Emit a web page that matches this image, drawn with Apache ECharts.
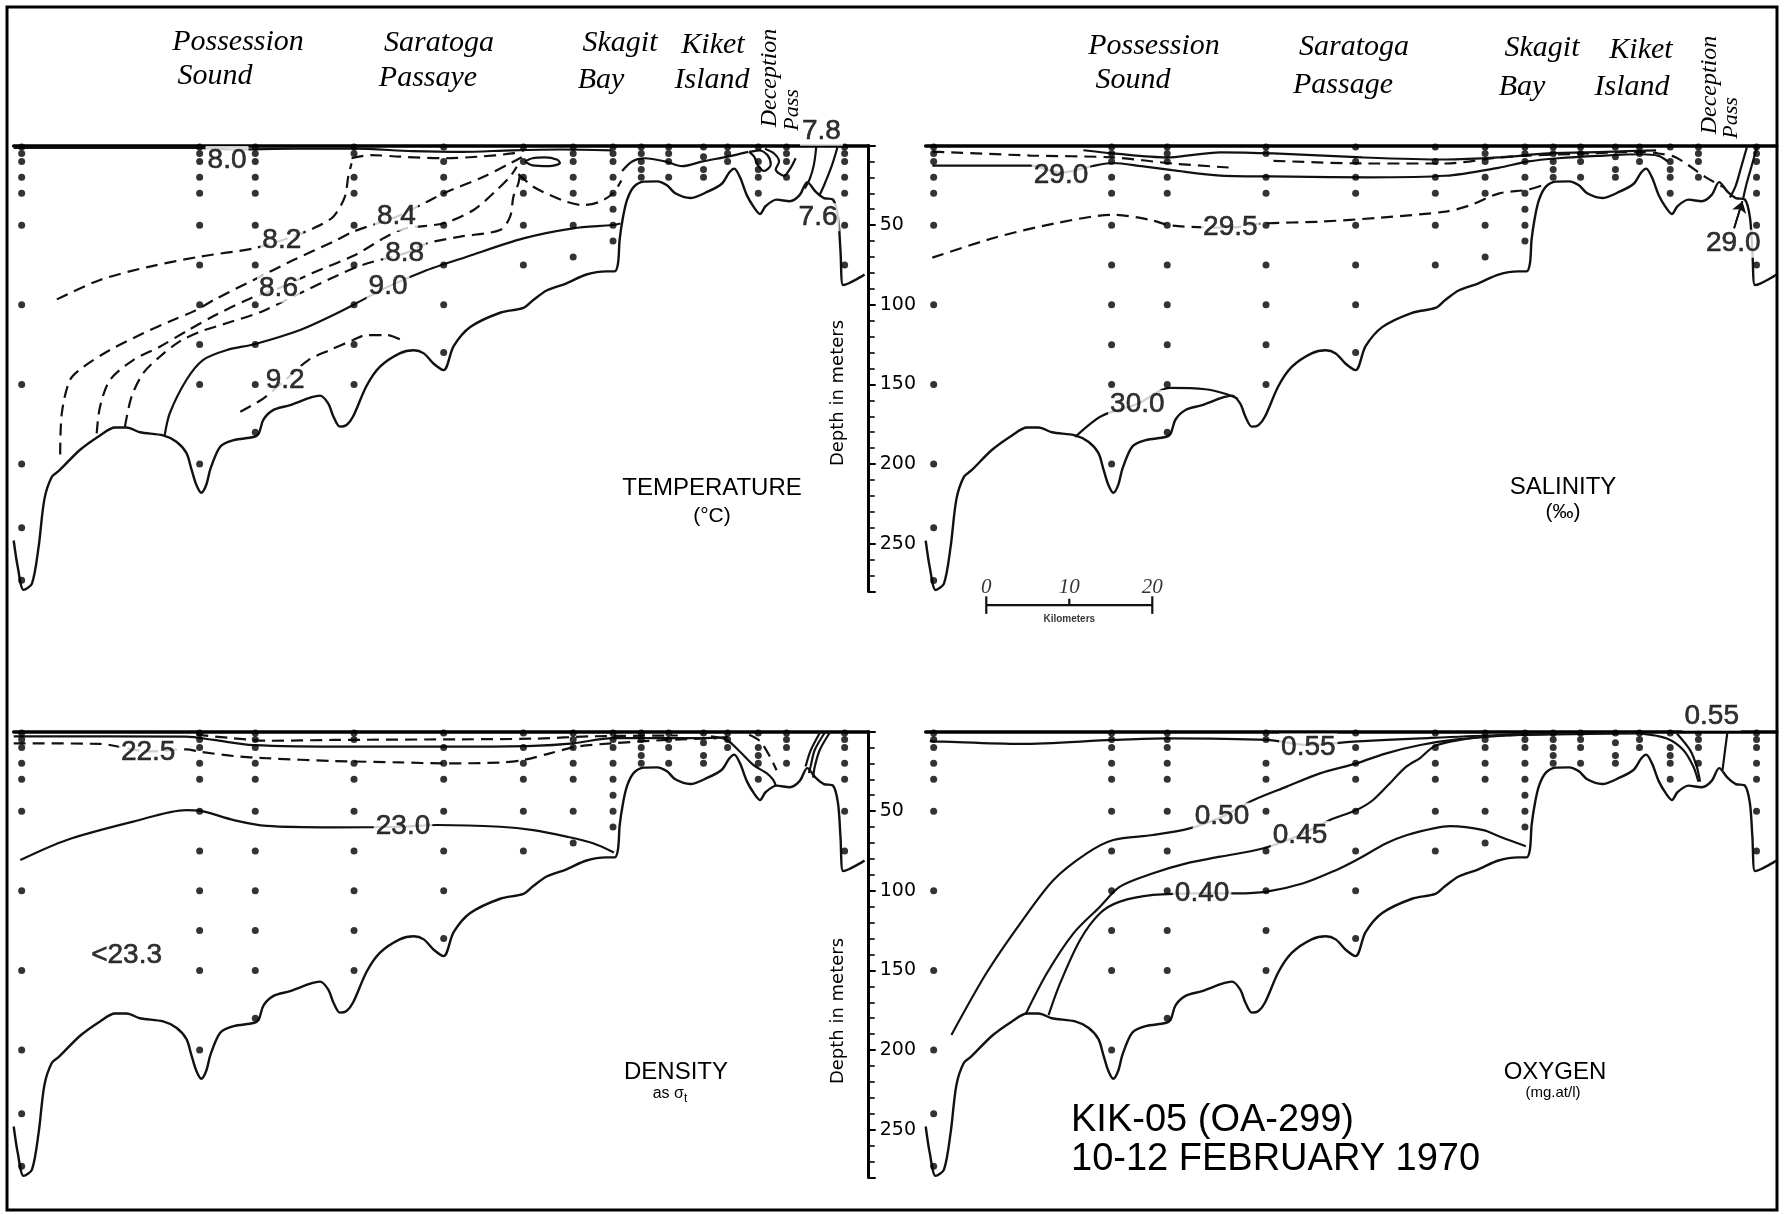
<!DOCTYPE html>
<html>
<head>
<meta charset="utf-8">
<script src="https://cdn.jsdelivr.net/npm/echarts@6/dist/echarts.min.js"></script>
<style>
  html, body { margin: 0; padding: 0; background: #fff; }
  #main { width: 1787px; height: 1215px; }
</style>
</head>
<body>
<div id="main"></div>
<script>
// KIK-05 section, 10-12 Feb 1970. x = km along the section, y = depth (m)

// sea floor, shared by the four sections
var bottomProfile = [[0,248],[0.5,265],[1.2,279],[2.2,275],[3.0,252],[3.7,222],[4.6,208],[5.5,204],[8.0,191],[10.4,182],
  [12.2,177],[13.6,177],[15.2,180],[18.0,182],[19.6,186],[20.8,193],[21.4,203],[22.0,213],[22.6,218],[23.2,213],
  [23.7,203],[24.9,189],[26.5,185],[28.9,183],[29.5,181],[30.1,172],[31.3,166],[33.3,163],[35.9,158],[36.9,157],
  [37.9,162],[38.5,170],[39.3,176.5],[40.1,175.5],[40.9,170],[42.5,151],[44.1,139],[46.5,130.5],[48.2,128.5],[49.4,130.5],
  [50.6,137],[51.8,141],[53.0,126],[55.0,114],[58.6,105],[61.4,102],[62.6,97],[64.2,91],[66.6,86.5],[69.0,81],
  [71.4,79],[72.4,79],[72.8,74],[73.0,59],[73.4,45],[73.9,34],[74.7,26],[75.9,22.7],[77.5,22.5],[78.7,25],
  [79.7,30],[81.5,33],[83.6,29],[85.3,24],[86.2,17],[86.8,14.5],[87.5,20],[88.3,31],[89.2,39],[89.9,43],
  [90.6,38],[91.9,34],[93.5,35],[94.7,31],[95.6,23],[96.6,29],[97.6,33],[98.7,34],[99.3,45],[99.6,66],
  [99.9,87.6],[100.6,86.5],[102.2,82],[102.5,81]];

// hydrographic stations and their bottle depths
var stationKm = [0.96, 22.4, 29.1, 41.0, 51.8, 61.4, 67.4, 72.2, 75.6, 78.9, 83.1, 86.0, 89.7, 93.1, 100.1];
var stationDepths = [
  [1, 5, 10, 20, 30, 50, 100, 150, 200, 240, 273],
  [1, 5, 10, 20, 30, 50, 75, 100, 125, 150, 200],
  [1, 5, 10, 20, 30, 50, 75, 100, 125, 150, 180],
  [1, 5, 20, 30, 50, 75, 100, 125, 150],
  [1, 10, 20, 30, 50, 75, 100, 130],
  [1, 10, 20, 30, 50, 75],
  [1, 5, 10, 20, 30, 50, 70],
  [1, 5, 10, 20, 30, 40, 50, 60],
  [1, 5, 10, 15, 20],
  [1, 5, 10, 20],
  [1, 7, 15, 20],
  [1, 5, 10],
  [1, 10, 15, 20, 30],
  [1, 5, 10, 20],
  [1, 5, 10, 20, 30, 50, 75]
];

// temperature (deg C)
var temp82 = [[5.2,96.6],[10.4,84.4],[16.4,76],[22.4,69.8],[28.9,64.6],[32.3,59.5],[36.1,52],[38.5,44.7],[39.9,32.1],[40.3,19.6],[40.7,11.2]];
var temp84 = [[5.6,194],[5.8,168],[6.8,147],[8.4,139],[11.6,128.4],[15.6,117.9],[19.2,109.5],[21.6,104.3],[24.5,95.9],[28.9,84.4],[33.7,71.9],[38.5,60.4],[40.9,54.1],[46.1,44.7],[49.8,35.3],[51.8,30],[56.6,19.6],[59.8,11.2],[61.2,7.4]];
var temp86 = [[10,180.7],[10.4,164],[11.6,147.2],[14.4,134.7],[17.6,126.3],[21,116],[24.5,106],[28.5,96],[31.9,89.7],[36,80],[41,69],[46.6,53],[51.8,48.8],[55.4,40.5],[58.2,27.9],[59.8,19.6],[60.6,13.3]];
var temp88 = [[13.4,176.5],[14.2,157.7],[15.6,143],[17.6,132.6],[20,123],[22.4,117],[26,111],[30,104],[34,94],[38,84],[42,75],[47.1,67.7],[49.8,61.4],[53.8,57.2],[58.6,53],[59.8,44.7],[60.2,32.1],[60.8,23.7],[61,17.5]];
var temp90 = [[18.2,181.7],[18.8,168.1],[20.8,147.2],[22.8,134.7],[25.7,128.4],[29.1,124.6],[34.5,115.8],[38.5,106.4],[40.9,100.1],[45.1,88.6],[49.3,79.2],[54.6,69.8],[61.4,58.3],[67.4,52],[72.2,49.9],[73.1,49]];
var temp92 = [[27.3,167.1],[30.1,158.7],[32.7,147.3],[35.5,134.7],[38.1,128.4],[40.9,122.1],[42.5,119],[44.9,119],[47.1,123.2]];
var tempDip = [[60.8,18],[62.6,25.9],[64.6,31.1],[66.6,35.3],[68.6,37.4],[70.6,35.3],[72.2,30],[73.2,22]];
var tempSurfDash = [[40.7,8],[43,6],[46.5,7],[51.8,8],[56,7],[60,5],[61.5,3]];
var tempSurfSolid = [[0,1.5],[22,1.5],[26,2.5],[34,2],[41,2],[48,3.5],[54,4],[60,3],[66,2.5],[72,3]];
var tempLens = [[61.6,10],[62.5,8],[64,7.5],[65.5,9],[65.8,11],[64.5,13],[62.5,12.5],[61.6,10]];
var tempSkagit = [[73.3,16],[74.5,10],[76,8],[78.5,10],[80.5,13],[83,10],[86,7],[88.5,4]];
var tempDecLoop = [[88.6,4],[89.8,3],[90.8,6],[91.2,12],[90.4,16],[89.6,12],[89.2,7],[88.6,4]];
var tempDecLine = [[90.5,2],[91.6,5],[92.2,10],[91.8,15],[92.8,19],[93.6,14],[94.2,8]];
var temp78a = [[96.7,0],[96.4,12],[95.9,21],[95.3,27]];
var temp78b = [[99.3,0],[98.6,12],[97.7,24],[97.1,31]];
var tempLabels = [['8.0',25.7,9.1],['8.2',32.3,59.5],['8.4',46.1,44.7],['8.6',31.9,89.7],['8.8',47.1,67.7],['9.0',45.1,88.6],['9.2',32.7,147.3],['7.8',97.3,-8.7],['7.6',96.9,45]];

// salinity (per mille)
var salTopDash1 = [[0.8,3.8],[12.6,6.3],[22.6,7.5],[29.7,11.3],[36.5,13.8]];
var salTopDash2 = [[41.9,9.6],[53.3,11.3],[62.6,11.3],[69,7.5],[72.6,6.3],[80,5],[86.2,4],[88.3,5],[90.4,7.5],[94,20],[96.2,26.4]];
var salUpper = [[19,3],[22.6,5],[29,7.5],[35.5,4.3],[41.9,5],[52.6,7.5],[62.6,8.8],[69,7.5],[75,5],[82,4],[88,3]];
var sal290 = [[0.8,12.6],[12.6,12.6],[16.3,17],[20,13],[22.6,11],[26,13],[29.7,15.5],[35.5,18.9],[44,19.5],[53.3,20],[62.6,19],[69,14],[72.6,10],[76.2,8],[81,6.5],[86.2,5.5],[88.3,6.5],[89.4,10]];
var sal295 = [[0.8,70.4],[8.3,57.9],[15.5,49],[22.6,43.5],[26.9,46.5],[29.7,50.3],[36.7,51.6],[40.5,49],[47.6,47.8],[54.7,45.3],[62.6,41.5],[65.5,37.7],[69,30.2],[72.6,27.7],[74.6,24.5]];
var sal300 = [[18,183],[21.2,169.8],[25.5,162.3],[29.4,152.2],[33.7,153],[36.2,156],[37.6,159]];
var salDecA = [[99,0],[98.3,12.6],[97.6,25.2],[96.9,32.7]];
var salDecB = [[100.2,0],[99.5,13],[98.9,24],[98.5,33]];
var salArrow = [[97.4,52],[98.4,35]];
var salLabels = [['29.0',16.3,18.5],['29.5',36.7,51.6],['30.0',25.5,162.3],['29.0',97.3,61.6]];

// density (sigma-t)
var den225 = [[0,7.4],[10.4,7.8],[16.2,12.5],[20.8,11.2],[22.4,12.7],[26.5,15.4],[30.5,16.8],[38.5,18.5],[46.5,19.4],[51.8,20],[58.6,19.5],[61.4,17.9],[64.6,13.7],[67.8,9.5],[72.2,7.4],[78.7,5.3],[84.7,4.2]];
var den230 = [[0.8,80.7],[6.4,68.1],[14.4,56.6],[20.8,49.3],[22.4,49.7],[26.5,55.6],[30.5,59.3],[38.5,60.2],[46.9,59.8],[51,58.7],[58.6,59.8],[62.6,61.9],[66.6,66],[69.8,70.2],[72.3,76]];
var denSurfSolid = [[0,3],[20.8,3.2],[24.1,5.3],[28.9,8.5],[40.9,9.5],[53.8,9.5],[62.6,9],[67.4,7.4],[72.2,4.2],[82.7,4.2],[86,3.5]];
var denSurfDash = [[22,2],[26,4],[30.5,5.8],[38.5,5.3],[53.8,4.9],[62.6,4.5],[70,3],[80,2.5]];
var denDecA = [[84,3],[85.9,5.3],[87.5,12.7],[89.1,21],[90.7,26.2],[91.5,30.4],[91.8,34]];
var denDecDash = [[88.6,2],[89.9,6],[91.1,15.8],[91.9,24.3]];
var denDecB = [[98.4,0],[97.1,11.6],[96.5,22.1],[96.3,29]];
var denDecC = [[97.8,0],[96.5,11.6],[96,22],[95.8,26]];
var denDecD = [[97.2,0],[96,12],[95.4,22]];
var denLabels = [['22.5',16.2,13],['23.0',46.9,59.8],['<23.3',13.6,140.3]];

// oxygen (mg-at/l)
var oxy055 = [[0.5,6],[2.1,6.4],[11.4,7.8],[22.6,5.3],[29,4.3],[41.1,5.3],[46.1,8.5],[51.5,6.4],[59.6,4.3],[68,2.5],[80,1.5],[86,1.2]];
var oxy050 = [[3.1,190.5],[7.3,151.8],[11.4,120.4],[15.4,93.2],[19.4,76.5],[22.6,68.1],[27.4,65],[31.8,60.8],[35.7,53.5],[39.5,43],[43.5,34.6],[47.5,26.3],[51.9,20],[55.5,13.7],[59.6,8.5],[64,5],[70,2.5],[75,1.5]];
var oxy045 = [[12,177.9],[14.6,151.8],[17.8,126.7],[21,110],[23.4,97.4],[27.4,89],[31.4,82.8],[35.5,78.6],[40.7,73.3],[45.1,65],[48.7,55.6],[51.9,49.3],[53.9,43],[56.3,30.4],[57.9,22.1],[59.6,16.5],[61.2,9.5],[63.2,6.4],[67.2,3.2],[73.2,1.2]];
var oxy040 = [[14.8,178],[16.2,158],[18.6,130.9],[21,114.1],[23.4,106.8],[27.4,102.6],[33.3,101.6],[37.5,101.6],[41.1,100.5],[45.5,95.3],[49.5,86.9],[51.9,80.7],[55.5,70.2],[58,65],[61.2,60.8],[63.2,59.4],[67.2,61.9],[69.2,66.1],[72.3,72]];
var oxyDecA = [[86.1,1.2],[89.3,4.4],[91.3,11.7],[92.5,22.1],[93.1,31.5]];
var oxyDecB = [[90.5,1.2],[92.1,11.7],[92.9,22.1],[93.3,31.5]];
var oxyDecC = [[96.6,0],[96.3,12],[96,24.3]];
var oxyLabels = [['0.55',46.1,10],['0.50',35.7,53.5],['0.45',45.1,65],['0.40',33.3,101.6],['0.55',94.7,-9.3]];

// scale bar (km)
var scaleKm = [0, 10, 20];
var scaleStart = 7.3;
var scaleDepth = 288.5;

var SANS = '"Liberation Sans", "DejaVu Sans", sans-serif';
var HAND = '"Liberation Serif", "DejaVu Serif", serif';
var CLEAR = 'rgba(0,0,0,0)';

function lineSeries(g, data, dashed, width) {
  return {
    type: 'line', xAxisIndex: g, yAxisIndex: g, data: data,
    symbol: 'none', smooth: 0.3, clip: false, silent: true, z: 3,
    lineStyle: { color: '#111', width: width || 2.2, type: dashed ? [12, 7] : 'solid' }
  };
}

function dotSeries(g) {
  var pts = [];
  stationKm.forEach(function(km, i) {
    stationDepths[i].forEach(function(d) { pts.push([km, d]); });
  });
  return {
    type: 'scatter', xAxisIndex: g, yAxisIndex: g, data: pts,
    symbolSize: 7, silent: true, z: 4, itemStyle: { color: '#000' }
  };
}

// contour values written on the section; 'inside' labels get a black outline so they stay solid black
function labelSeries(g, list) {
  return {
    type: 'scatter', xAxisIndex: g, yAxisIndex: g, symbolSize: 1, clip: false, silent: true, z: 6,
    itemStyle: { color: CLEAR },
    data: list.map(function(l) {
      return { value: [l[1], l[2]], label: { formatter: l[0] } };
    }),
    label: {
      show: true, position: 'inside', color: '#000', fontSize: 28, fontFamily: SANS,
      textBorderColor: '#000', textBorderWidth: 0.6, backgroundColor: '#fff', padding: [0, 2]
    }
  };
}

var series = [];
[0, 1, 2, 3].forEach(function(g) {
  series.push(lineSeries(g, bottomProfile, false, 2.4));
  series.push(dotSeries(g));
});

// temperature, panel 0
[temp90, tempSurfSolid, tempLens, tempSkagit, tempDecLoop, tempDecLine, temp78a, temp78b].forEach(function(d) {
  series.push(lineSeries(0, d, false));
});
[temp82, temp84, temp86, temp88, temp92, tempDip, tempSurfDash].forEach(function(d) {
  series.push(lineSeries(0, d, true));
});
series.push(labelSeries(0, tempLabels));

// salinity, panel 1
[salUpper, sal290, sal300, salDecA, salDecB].forEach(function(d) {
  series.push(lineSeries(1, d, false));
});
[salTopDash1, salTopDash2, sal295].forEach(function(d) {
  series.push(lineSeries(1, d, true));
});
var arrow = lineSeries(1, salArrow, false, 1.8);
arrow.markLine = {
  silent: true, symbol: ['none', 'arrow'], symbolSize: 11,
  lineStyle: { color: '#111', width: 1.8, type: 'solid' }, label: { show: false },
  data: [[{ coord: salArrow[0] }, { coord: salArrow[1] }]]
};
series.push(arrow);
series.push(labelSeries(1, salLabels));

// scale bar drawn in panel 1 units
var scaleEnd = scaleStart + scaleKm[scaleKm.length - 1];
series.push(lineSeries(1, [[scaleStart, scaleDepth], [scaleEnd, scaleDepth]], false, 2.2));
scaleKm.forEach(function(k, i) {
  var ends = (i === 0 || i === scaleKm.length - 1);
  var s = lineSeries(1, [[scaleStart + k, scaleDepth - (ends ? 5.5 : 4)], [scaleStart + k, scaleDepth + (ends ? 5.5 : 0)]], false, 2.2);
  s.smooth = false;
  series.push(s);
});
series.push({
  type: 'scatter', xAxisIndex: 1, yAxisIndex: 1, symbolSize: 1, clip: false, silent: true, z: 6,
  itemStyle: { color: CLEAR },
  data: scaleKm.map(function(k) { return { value: [scaleStart + k, scaleDepth], label: { formatter: String(k) } }; })
    .concat([{ value: [scaleStart + scaleKm[scaleKm.length - 1] / 2, scaleDepth],
      label: { formatter: 'Kilometers', position: 'bottom', distance: 9, fontSize: 10, fontWeight: 'bold', fontStyle: 'normal', fontFamily: SANS } }]),
  label: { show: true, position: 'top', distance: 7, color: '#000', fontSize: 21, fontStyle: 'italic', fontFamily: HAND }
});

// density, panel 2
[den230, denSurfSolid, denDecA, denDecB, denDecC, denDecD].forEach(function(d) {
  series.push(lineSeries(2, d, false));
});
[den225, denSurfDash, denDecDash].forEach(function(d) {
  series.push(lineSeries(2, d, true));
});
series.push(labelSeries(2, denLabels));

// oxygen, panel 3
[oxy055, oxy050, oxy045, oxy040, oxyDecA, oxyDecB, oxyDecC].forEach(function(d) {
  series.push(lineSeries(3, d, false));
});
series.push(labelSeries(3, oxyLabels));

function surfaceAxis(g, max) {
  return {
    gridIndex: g, type: 'value', min: 0, max: max, position: 'top',
    axisLine: { show: true, onZero: false, lineStyle: { color: '#000', width: 3.5 } },
    axisTick: { show: false }, axisLabel: { show: false }, splitLine: { show: false }
  };
}
function depthAxis(g) {
  return {
    gridIndex: g, type: 'value', inverse: true, min: 0, max: 280, interval: 50, position: 'right',
    axisLine: { show: true, onZero: false, lineStyle: { color: '#000', width: 3 } },
    axisTick: { show: true, length: 7, lineStyle: { color: '#000', width: 2 } },
    minorTick: { show: true, splitNumber: 5, length: 6, lineStyle: { color: '#000', width: 1.6 } },
    axisLabel: {
      margin: 11, fontSize: 19, color: '#000', fontFamily: '"DejaVu Sans", sans-serif',
      formatter: function(v) { return (v === 0 || v > 250) ? '' : String(v); }
    },
    splitLine: { show: false }, minorSplitLine: { show: false }
  };
}
function hiddenDepth(g, max) {
  return { gridIndex: g, type: 'value', inverse: true, min: 0, max: max, show: false, splitLine: { show: false } };
}

function txt(x, y, text, size, extra) {
  var st = { text: text, fill: '#000', fontSize: size, fontFamily: SANS,
    textAlign: 'center', textVerticalAlign: 'middle', align: 'center', verticalAlign: 'middle' };
  for (var k in extra || {}) st[k] = extra[k];
  return { type: 'text', x: x, y: y, silent: true, z: 10, style: st };
}
function place(x, y, text) {
  return txt(x, y, text, 30, { fontFamily: HAND, fontStyle: 'italic' });
}
function vplace(x, y, text, size) {
  var t = txt(x, y, text, size, { fontFamily: HAND, fontStyle: 'italic' });
  t.rotation = Math.PI / 2;
  return t;
}
function vlabel(x, y, text) {
  var t = txt(x, y, text, 18, { fontFamily: '"DejaVu Sans", sans-serif' });
  t.rotation = Math.PI / 2;
  return t;
}

var graphics = [
  { type: 'rect', silent: true, z: 0, shape: { x: 7, y: 7, width: 1770, height: 1203 },
    style: { fill: 'none', stroke: '#000', lineWidth: 3 } },
  place(238, 42, 'Possession'), place(215, 76, 'Sound'),
  place(439, 43, 'Saratoga'), place(428, 78, 'Passaye'),
  place(620, 43, 'Skagit'), place(601, 80, 'Bay'),
  place(713, 45, 'Kiket'), place(712, 80, 'Island'),
  vplace(770, 78, 'Deception', 24), vplace(792, 110, 'Pass', 22),
  place(1154, 46, 'Possession'), place(1133, 80, 'Sound'),
  place(1354, 47, 'Saratoga'), place(1343, 85, 'Passage'),
  place(1542, 48, 'Skagit'), place(1522, 87, 'Bay'),
  place(1641, 50, 'Kiket'), place(1632, 87, 'Island'),
  vplace(1710, 85, 'Deception', 24), vplace(1731, 118, 'Pass', 22),
  txt(712, 488, 'TEMPERATURE', 24), txt(712, 516, '(°C)', 21),
  txt(1563, 487, 'SALINITY', 24), txt(1563, 512, '(‰)', 21),
  txt(676, 1072, 'DENSITY', 24),
  { type: 'text', x: 670, y: 1094, silent: true, z: 10,
    style: { text: '{a|as σ}{b|t}', fill: '#000', textAlign: 'center', textVerticalAlign: 'middle', align: 'center', verticalAlign: 'middle',
      rich: { a: { fontSize: 16, fontFamily: SANS }, b: { fontSize: 12, fontFamily: SANS, padding: [9, 0, 0, 0] } } } },
  txt(1555, 1072, 'OXYGEN', 24), txt(1553, 1093, '(mg.at/l)', 15),
  txt(1071, 1121, 'KIK-05 (OA-299)', 38, { textAlign: 'left', align: 'left' }),
  txt(1071, 1160, '10-12 FEBRUARY 1970', 38, { textAlign: 'left', align: 'left' }),
  vlabel(838, 393, 'Depth in meters'),
  vlabel(838, 1011, 'Depth in meters')
];

var chart = echarts.init(document.getElementById('main'));
chart.setOption({
  animation: false,
  backgroundColor: '#fff',
  grid: [
    { left: 13.7, top: 145.5, width: 855, height: 446 },
    { left: 925.7, top: 145.5, width: 851, height: 477.9 },
    { left: 13.7, top: 731.5, width: 855, height: 446 },
    { left: 925.7, top: 731.5, width: 851, height: 446 }
  ],
  xAxis: [surfaceAxis(0, 103), surfaceAxis(1, 102.53), surfaceAxis(2, 103), surfaceAxis(3, 102.53)],
  yAxis: [depthAxis(0), hiddenDepth(1, 300), depthAxis(2), hiddenDepth(3, 280)],
  graphic: graphics,
  series: series
});
</script>
</body>
</html>
